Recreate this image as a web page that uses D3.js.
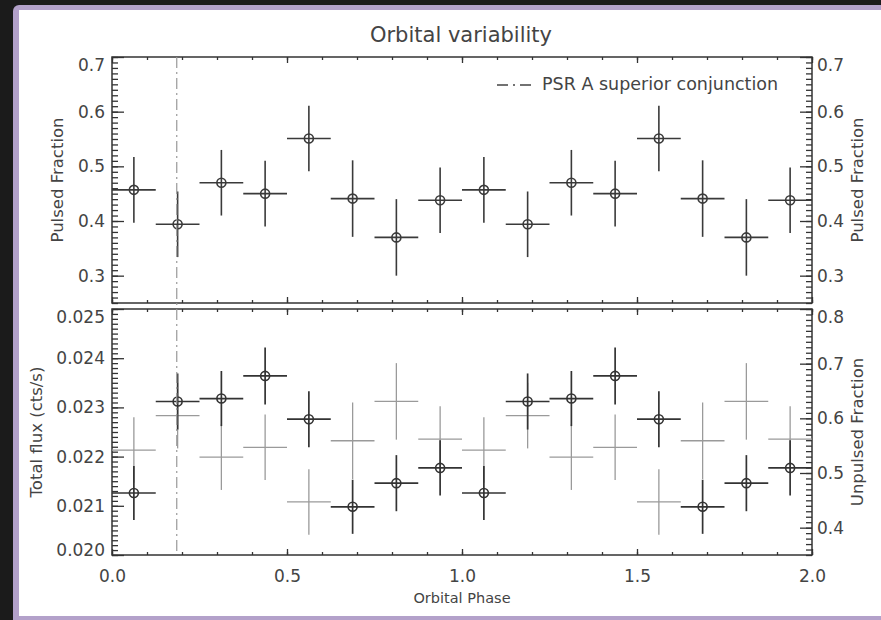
<!DOCTYPE html>
<html>
<head>
<meta charset="utf-8">
<script src="https://cdn.jsdelivr.net/npm/d3@7"></script>
<style>
  html, body { margin: 0; padding: 0; background: #1b1b1b; }
  svg { display: block; }
</style>
</head>
<body>
<div id="chart"></div>
<script>
// phase bins (two cycles shown)
const phaseCenters = [0.0625, 0.1875, 0.3125, 0.4375, 0.5625, 0.6875, 0.8125, 0.9375,
                      1.0625, 1.1875, 1.3125, 1.4375, 1.5625, 1.6875, 1.8125, 1.9375];
const binHalfWidth = 0.0625;

const pulsedFraction = [0.457, 0.394, 0.470, 0.450, 0.551, 0.441, 0.370, 0.438,
                        0.457, 0.394, 0.470, 0.450, 0.551, 0.441, 0.370, 0.438];
const pulsedErr = [0.060, 0.060, 0.060, 0.060, 0.060, 0.070, 0.070, 0.060,
                   0.060, 0.060, 0.060, 0.060, 0.060, 0.070, 0.070, 0.060];

const totalFlux = [0.02126, 0.02312, 0.02318, 0.02364, 0.02276, 0.02098, 0.02146, 0.02177,
                   0.02126, 0.02312, 0.02318, 0.02364, 0.02276, 0.02098, 0.02146, 0.02177];
const fluxErr = [0.00055, 0.00057, 0.00056, 0.00058, 0.00057, 0.00055, 0.00057, 0.00056,
                 0.00055, 0.00057, 0.00056, 0.00058, 0.00057, 0.00055, 0.00057, 0.00056];

const unpulsedFraction = [0.542, 0.605, 0.529, 0.547, 0.447, 0.559, 0.631, 0.562,
                          0.542, 0.605, 0.529, 0.547, 0.447, 0.559, 0.631, 0.562];
const unpulsedErr = [0.060, 0.060, 0.060, 0.060, 0.060, 0.070, 0.070, 0.060,
                     0.060, 0.060, 0.060, 0.060, 0.060, 0.070, 0.070, 0.060];

const conjunctionPhase = 0.185;

const xMajorTicks = [0.0, 0.5, 1.0, 1.5, 2.0];
const pulsedTicks = [0.3, 0.4, 0.5, 0.6, 0.7];
const fluxTicks = [0.020, 0.021, 0.022, 0.023, 0.024, 0.025];
const unpulsedTicks = [0.4, 0.5, 0.6, 0.7, 0.8];

const W = 881, H = 620;
const FONT = "DejaVu Sans, sans-serif";
const INK = "#333";
const TEXT = "#444";

const svg = d3.select("#chart").append("svg")
  .attr("width", W)
  .attr("height", H);

// dark surround + purple frame + white panel
svg.append("rect").attr("width", W).attr("height", H).attr("fill", "#1b1b1b");
svg.append("rect")
  .attr("x", 13).attr("y", 5).attr("width", W).attr("height", H + 10)
  .attr("rx", 6).attr("fill", "#b3a1ca");
svg.append("rect")
  .attr("x", 19).attr("y", 10).attr("width", W).attr("height", 606)
  .attr("fill", "#ffffff");

// scales
const left = 112, right = 812;
const topY0 = 57, topY1 = 303, botY0 = 309, botY1 = 555;

const x = d3.scaleLinear().domain([0, 2]).range([left, right]);
const yPulsed = d3.scaleLinear().domain([0.25, 0.7]).range([topY1, topY0]);
const yFlux = d3.scaleLinear().domain([0.020, 0.025]).range([botY1, botY0]);
const yUnpulsed = d3.scaleLinear().domain([0.35, 0.8]).range([botY1, botY0]);

const xMinorTicks = d3.range(0, 2.0001, 0.1).map(v => +v.toFixed(2));

function styleAxis(g) {
  g.select(".domain").remove();
  g.selectAll(".tick line").attr("stroke", INK).attr("stroke-width", 1.3);
  g.selectAll("text").attr("fill", TEXT).style("font-family", FONT).style("font-size", "17px");
}

// x axes (ticks inward, on all four horizontal edges)
function xAxisEdge(y, orient, labels) {
  const maker = orient === "top" ? d3.axisTop : d3.axisBottom;
  svg.append("g").attr("transform", `translate(0,${y})`)
    .call(maker(x).tickValues(xMinorTicks).tickSizeInner(-3).tickSizeOuter(0).tickFormat(""))
    .call(styleAxis);
  svg.append("g").attr("transform", `translate(0,${y})`)
    .call(maker(x).tickValues(xMajorTicks).tickSizeInner(-6).tickSizeOuter(0)
      .tickPadding(15).tickFormat(labels ? d3.format(".1f") : ""))
    .call(styleAxis);
}
xAxisEdge(topY0, "top", false);
xAxisEdge(topY1, "bottom", false);
xAxisEdge(botY0, "top", false);
xAxisEdge(botY1, "bottom", true);

// y axes
function yAxisEdge(scale, side, majors, step, fmt) {
  const maker = side === "left" ? d3.axisLeft : d3.axisRight;
  const xPos = side === "left" ? left : right;
  const [d0, d1] = scale.domain();
  const minors = d3.range(Math.ceil(d0 / step - 1e-6), Math.floor(d1 / step + 1e-6) + 1).map(i => i * step);
  svg.append("g").attr("transform", `translate(${xPos},0)`)
    .call(maker(scale).tickValues(minors).tickSizeInner(-6).tickSizeOuter(0).tickFormat(""))
    .call(styleAxis);
  const g = svg.append("g").attr("transform", `translate(${xPos},0)`)
    .call(maker(scale).tickValues(majors).tickSizeInner(-12).tickSizeOuter(0)
      .tickPadding(side === "left" ? 7 : 5).tickFormat(d3.format(fmt)))
    .call(styleAxis);
  // keep the edge labels inside the panel like the original
  g.selectAll(".tick text")
    .attr("dy", d => Math.abs(scale(d) - scale.range()[1]) < 1 ? "0.78em"
      : (Math.abs(scale(d) - scale.range()[0]) < 1 ? "0.05em" : "0.32em"));
}
yAxisEdge(yPulsed, "left", pulsedTicks, 0.01, ".1f");
yAxisEdge(yPulsed, "right", pulsedTicks, 0.01, ".1f");
yAxisEdge(yFlux, "left", fluxTicks, 0.0001, ".3f");
yAxisEdge(yUnpulsed, "right", unpulsedTicks, 0.01, ".1f");

// panel frames
[[topY0, topY1], [botY0, botY1]].forEach(([a, b]) => {
  svg.append("rect")
    .attr("x", left).attr("y", a)
    .attr("width", right - left).attr("height", b - a)
    .attr("fill", "none").attr("stroke", INK).attr("stroke-width", 1.5);
});

// crosses with optional circles
function drawCrosses(yScale, values, errs, color, width, withCircle) {
  const data = phaseCenters.map((p, i) => ({ p, v: values[i], e: errs[i] }));
  const g = svg.append("g");
  g.selectAll("line.h").data(data).join("line")
    .attr("x1", d => x(d.p - binHalfWidth)).attr("x2", d => x(d.p + binHalfWidth))
    .attr("y1", d => yScale(d.v)).attr("y2", d => yScale(d.v))
    .attr("stroke", color).attr("stroke-width", width);
  g.selectAll("line.v").data(data).join("line")
    .attr("x1", d => x(d.p)).attr("x2", d => x(d.p))
    .attr("y1", d => yScale(d.v - d.e)).attr("y2", d => yScale(d.v + d.e))
    .attr("stroke", color).attr("stroke-width", width);
  if (withCircle) {
    g.selectAll("circle").data(data).join("circle")
      .attr("cx", d => x(d.p)).attr("cy", d => yScale(d.v)).attr("r", 4.5)
      .attr("fill", "none").attr("stroke", color).attr("stroke-width", 1.6);
  }
}
drawCrosses(yPulsed, pulsedFraction, pulsedErr, "#3a3a3a", 1.6, true);
drawCrosses(yUnpulsed, unpulsedFraction, unpulsedErr, "#9a9a9a", 1.3, false);
drawCrosses(yFlux, totalFlux, fluxErr, "#333", 1.7, true);

// conjunction line
svg.append("line")
  .attr("x1", x(conjunctionPhase)).attr("x2", x(conjunctionPhase))
  .attr("y1", topY0).attr("y2", botY1)
  .attr("stroke", "#999").attr("stroke-width", 1.2)
  .attr("stroke-dasharray", "11,4,2,4");

// legend
svg.append("line")
  .attr("x1", 497).attr("x2", 535).attr("y1", 85).attr("y2", 85)
  .attr("stroke", "#444").attr("stroke-width", 1.4)
  .attr("stroke-dasharray", "11,5,2,5");
svg.append("text")
  .attr("x", 542).attr("y", 90)
  .attr("fill", TEXT).style("font-family", FONT).style("font-size", "17.5px")
  .text("PSR A superior conjunction");

// title and axis titles
svg.append("text")
  .attr("x", 461).attr("y", 42).attr("text-anchor", "middle")
  .attr("fill", TEXT).style("font-family", FONT).style("font-size", "21px")
  .text("Orbital variability");

svg.append("text")
  .attr("x", 462).attr("y", 603).attr("text-anchor", "middle")
  .attr("fill", TEXT).style("font-family", FONT).style("font-size", "14.5px")
  .text("Orbital Phase");

function yTitle(xPos, yMid, label) {
  svg.append("text")
    .attr("transform", `translate(${xPos},${yMid}) rotate(-90)`)
    .attr("text-anchor", "middle")
    .attr("fill", TEXT).style("font-family", FONT).style("font-size", "16.5px")
    .text(label);
}
yTitle(63, (topY0 + topY1) / 2, "Pulsed Fraction");
yTitle(42, (botY0 + botY1) / 2, "Total flux (cts/s)");
yTitle(863, (topY0 + topY1) / 2, "Pulsed Fraction");
yTitle(863, (botY0 + botY1) / 2, "Unpulsed Fraction");
</script>
</body>
</html>
